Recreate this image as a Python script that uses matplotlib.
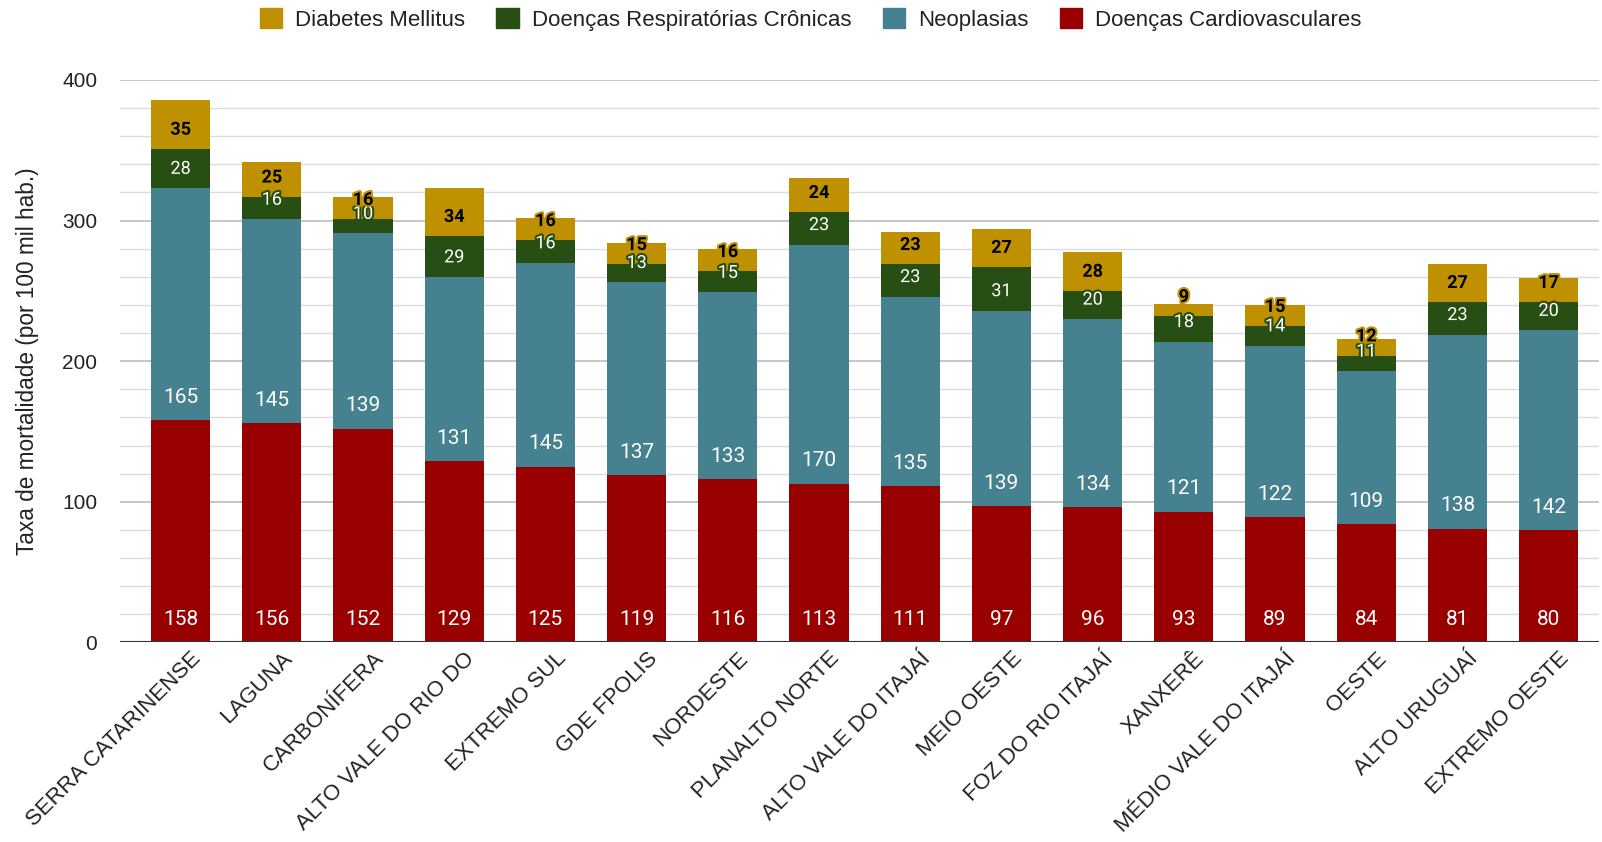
import matplotlib
matplotlib.use("Agg")
import matplotlib.pyplot as plt
import matplotlib.patheffects as pe
from matplotlib.patches import Patch
import numpy as np

regions = ["SERRA CATARINENSE", "LAGUNA", "CARBONÍFERA", "ALTO VALE DO RIO DO",
           "EXTREMO SUL", "GDE FPOLIS", "NORDESTE", "PLANALTO NORTE",
           "ALTO VALE DO ITAJAÍ", "MEIO OESTE", "FOZ DO RIO ITAJAÍ", "XANXERÊ",
           "MÉDIO VALE DO ITAJAÍ", "OESTE", "ALTO URUGUAÍ", "EXTREMO OESTE"]
cardio = [158, 156, 152, 129, 125, 119, 116, 113, 111, 97, 96, 93, 89, 84, 81, 80]
neo = [165, 145, 139, 131, 145, 137, 133, 170, 135, 139, 134, 121, 122, 109, 138, 142]
resp = [28, 16, 10, 29, 16, 13, 15, 23, 23, 31, 20, 18, 14, 11, 23, 20]
diab = [35, 25, 16, 34, 16, 15, 16, 24, 23, 27, 28, 9, 15, 12, 27, 17]

names = ["Doenças Cardiovasculares", "Neoplasias", "Doenças Respiratórias Crônicas", "Diabetes Mellitus"]
colors = ["#990000", "#45818e", "#274e13", "#bf9000"]

fig = plt.figure(figsize=(16.02, 8.42), dpi=100)
ax = fig.add_axes([0.0746, 0.237, 0.9234, 0.668])

x = np.arange(len(regions))
width = 0.65
bottom = np.zeros(len(regions))
series = [cardio, neo, resp, diab]
for i, (vals, name, col) in enumerate(zip(series, names, colors)):
    vals = np.array(vals, dtype=float)
    ax.bar(x, vals, width, bottom=bottom, color=col, label=name, zorder=3, linewidth=0)
    for xi, b, v in zip(x, bottom, vals):
        if i < 2:
            ax.annotate(f"{int(v)}", (xi, b), xytext=(0, 16.5), textcoords="offset points",
                        ha="center", va="center", color="white", fontsize=15,
                        family="Roboto", zorder=5)
        elif i == 2:
            ax.annotate(f"{int(v)}", (xi, b), xytext=(0, 14.0), textcoords="offset points",
                        ha="center", va="center", color="white", fontsize=13,
                        family="Roboto", zorder=5,
                        path_effects=[pe.withStroke(linewidth=3, foreground=col)])
        else:
            ax.annotate(f"{int(v)}", (xi, b), xytext=(0, 13.8), textcoords="offset points",
                        ha="center", va="center", color="black", fontsize=13,
                        family="Roboto", fontweight="bold", zorder=5,
                        path_effects=[pe.withStroke(linewidth=3, foreground=col)])
    bottom = bottom + vals

ax.set_xlim(-0.67, 15.55)
ax.set_ylim(0, 400)
ax.set_yticks([0, 100, 200, 300, 400])
ax.set_yticks(np.arange(0, 401, 20), minor=True)
ax.grid(axis="y", which="major", color="#b7b7b7", linewidth=1.1, zorder=0)
ax.grid(axis="y", which="minor", color="#dcdcdc", linewidth=1.0, zorder=0)
ax.axhline(0, color="#333333", linewidth=1.5, zorder=4)
for s in ax.spines.values():
    s.set_visible(False)
ax.tick_params(axis="y", which="both", length=0, pad=16, labelsize=15)
ax.tick_params(axis="x", length=0, pad=4)
for lab in ax.get_yticklabels():
    lab.set_family("Liberation Sans")
    lab.set_color("#222222")
ax.set_xticks(x)
ax.set_xticklabels(regions, rotation=45, ha="right", rotation_mode="anchor",
                   fontsize=16, family="Liberation Sans", color="#222222")
for lab in ax.get_xticklabels():
    lab.set_x(lab.get_position()[0])
ax.set_ylabel("Taxa de mortalidade (por 100 mil hab.)", fontsize=16.3,
              family="Liberation Sans", color="#222222", labelpad=17)

handles = [Patch(facecolor=c, edgecolor=c) for c in colors[::-1]]
leg = fig.legend(handles, names[::-1], loc="center", bbox_to_anchor=(0.506, 0.977),
                 ncol=4, frameon=False, handlelength=1.0, handleheight=1.0,
                 handletextpad=0.6, columnspacing=1.4,
                 prop={"family": "Liberation Sans", "size": 16})
for t in leg.get_texts():
    t.set_color("#222222")

# shift x tick labels slightly right so their top end sits past the bar centre
import matplotlib.transforms as mtransforms
offset = mtransforms.ScaledTranslation(10 / 100, 0, fig.dpi_scale_trans)
for lab in ax.get_xticklabels():
    lab.set_transform(lab.get_transform() + offset)

fig.savefig("out.png", dpi=100)
